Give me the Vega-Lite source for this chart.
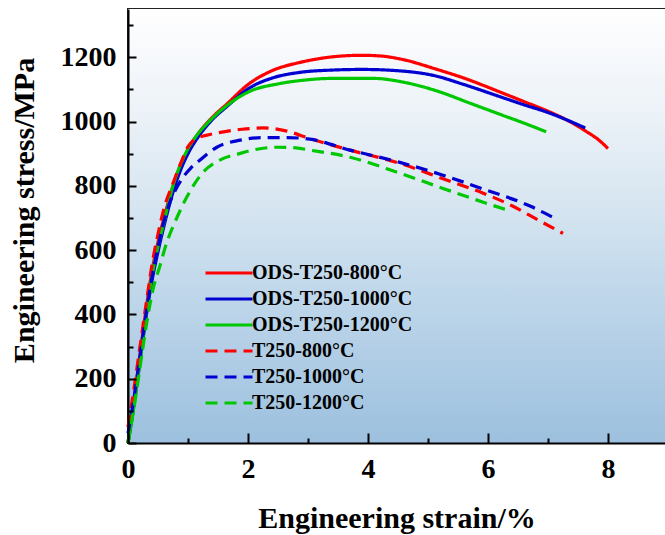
{
  "$schema": "https://vega.github.io/schema/vega-lite/v6.json",
  "width": 537,
  "height": 434,
  "autosize": {"type": "none"},
  "padding": {"left": 128, "top": 9, "right": 0, "bottom": 92},
  "background": "white",
  "config": {
    "font": "Liberation Serif",
    "view": {"stroke": "#222222", "strokeWidth": 2},
    "legend": {
      "orient": "none",
      "legendX": 91,
      "legendY": 254,
      "padding": 0,
      "title": null,
      "labelFont": "Liberation Serif",
      "labelFontSize": 20,
      "labelFontWeight": "bold",
      "labelColor": "black",
      "labelLimit": 400,
      "labelOffset": 13,
      "symbolType": "M-4.7,0H4.7",
      "symbolSize": 100,
      "symbolStrokeWidth": 3,
      "rowPadding": 6
    }
  },
  "datasets": {
    "curves": [
      {"series": "ODS-T250-800°C", "strain": 0, "stress": 0},
      {"series": "ODS-T250-800°C", "strain": 0.1, "stress": 135},
      {"series": "ODS-T250-800°C", "strain": 0.2, "stress": 275},
      {"series": "ODS-T250-800°C", "strain": 0.3, "stress": 415},
      {"series": "ODS-T250-800°C", "strain": 0.4, "stress": 535},
      {"series": "ODS-T250-800°C", "strain": 0.5, "stress": 625},
      {"series": "ODS-T250-800°C", "strain": 0.6, "stress": 700},
      {"series": "ODS-T250-800°C", "strain": 0.75, "stress": 800},
      {"series": "ODS-T250-800°C", "strain": 0.9, "stress": 875},
      {"series": "ODS-T250-800°C", "strain": 1.0, "stress": 912},
      {"series": "ODS-T250-800°C", "strain": 1.2, "stress": 970},
      {"series": "ODS-T250-800°C", "strain": 1.4, "stress": 1012},
      {"series": "ODS-T250-800°C", "strain": 1.65, "stress": 1055},
      {"series": "ODS-T250-800°C", "strain": 2.0, "stress": 1115},
      {"series": "ODS-T250-800°C", "strain": 2.4, "stress": 1158},
      {"series": "ODS-T250-800°C", "strain": 2.87, "stress": 1184},
      {"series": "ODS-T250-800°C", "strain": 3.4, "stress": 1201},
      {"series": "ODS-T250-800°C", "strain": 3.9, "stress": 1206},
      {"series": "ODS-T250-800°C", "strain": 4.2, "stress": 1204},
      {"series": "ODS-T250-800°C", "strain": 4.6, "stress": 1192},
      {"series": "ODS-T250-800°C", "strain": 5.1, "stress": 1165},
      {"series": "ODS-T250-800°C", "strain": 5.6, "stress": 1135},
      {"series": "ODS-T250-800°C", "strain": 6.25, "stress": 1088},
      {"series": "ODS-T250-800°C", "strain": 6.6, "stress": 1062},
      {"series": "ODS-T250-800°C", "strain": 7.0, "stress": 1032},
      {"series": "ODS-T250-800°C", "strain": 7.3, "stress": 1006},
      {"series": "ODS-T250-800°C", "strain": 7.63, "stress": 970},
      {"series": "ODS-T250-800°C", "strain": 7.85, "stress": 942},
      {"series": "ODS-T250-800°C", "strain": 8.0, "stress": 916},

      {"series": "ODS-T250-1000°C", "strain": 0, "stress": 0},
      {"series": "ODS-T250-1000°C", "strain": 0.1, "stress": 120},
      {"series": "ODS-T250-1000°C", "strain": 0.2, "stress": 255},
      {"series": "ODS-T250-1000°C", "strain": 0.3, "stress": 390},
      {"series": "ODS-T250-1000°C", "strain": 0.4, "stress": 505},
      {"series": "ODS-T250-1000°C", "strain": 0.5, "stress": 595},
      {"series": "ODS-T250-1000°C", "strain": 0.6, "stress": 675},
      {"series": "ODS-T250-1000°C", "strain": 0.75, "stress": 780},
      {"series": "ODS-T250-1000°C", "strain": 0.9, "stress": 860},
      {"series": "ODS-T250-1000°C", "strain": 1.0, "stress": 900},
      {"series": "ODS-T250-1000°C", "strain": 1.2, "stress": 960},
      {"series": "ODS-T250-1000°C", "strain": 1.4, "stress": 1005},
      {"series": "ODS-T250-1000°C", "strain": 1.65, "stress": 1047},
      {"series": "ODS-T250-1000°C", "strain": 2.03, "stress": 1105},
      {"series": "ODS-T250-1000°C", "strain": 2.4, "stress": 1135},
      {"series": "ODS-T250-1000°C", "strain": 2.87, "stress": 1153},
      {"series": "ODS-T250-1000°C", "strain": 3.4, "stress": 1160},
      {"series": "ODS-T250-1000°C", "strain": 3.9, "stress": 1162},
      {"series": "ODS-T250-1000°C", "strain": 4.5, "stress": 1158},
      {"series": "ODS-T250-1000°C", "strain": 5.1, "stress": 1143},
      {"series": "ODS-T250-1000°C", "strain": 5.6, "stress": 1115},
      {"series": "ODS-T250-1000°C", "strain": 6.25, "stress": 1074},
      {"series": "ODS-T250-1000°C", "strain": 6.6, "stress": 1052},
      {"series": "ODS-T250-1000°C", "strain": 7.0, "stress": 1028},
      {"series": "ODS-T250-1000°C", "strain": 7.3, "stress": 1006},
      {"series": "ODS-T250-1000°C", "strain": 7.62, "stress": 980},

      {"series": "ODS-T250-1200°C", "strain": 0, "stress": 0},
      {"series": "ODS-T250-1200°C", "strain": 0.1, "stress": 115},
      {"series": "ODS-T250-1200°C", "strain": 0.2, "stress": 250},
      {"series": "ODS-T250-1200°C", "strain": 0.3, "stress": 395},
      {"series": "ODS-T250-1200°C", "strain": 0.4, "stress": 520},
      {"series": "ODS-T250-1200°C", "strain": 0.5, "stress": 612},
      {"series": "ODS-T250-1200°C", "strain": 0.58, "stress": 672},
      {"series": "ODS-T250-1200°C", "strain": 0.75, "stress": 800},
      {"series": "ODS-T250-1200°C", "strain": 0.98, "stress": 908},
      {"series": "ODS-T250-1200°C", "strain": 1.15, "stress": 958},
      {"series": "ODS-T250-1200°C", "strain": 1.32, "stress": 994},
      {"series": "ODS-T250-1200°C", "strain": 1.65, "stress": 1050},
      {"series": "ODS-T250-1200°C", "strain": 2.03, "stress": 1094},
      {"series": "ODS-T250-1200°C", "strain": 2.5, "stress": 1117},
      {"series": "ODS-T250-1200°C", "strain": 2.9, "stress": 1128},
      {"series": "ODS-T250-1200°C", "strain": 3.4, "stress": 1134},
      {"series": "ODS-T250-1200°C", "strain": 4.1, "stress": 1134},
      {"series": "ODS-T250-1200°C", "strain": 4.6, "stress": 1122},
      {"series": "ODS-T250-1200°C", "strain": 5.15, "stress": 1095},
      {"series": "ODS-T250-1200°C", "strain": 5.7, "stress": 1057},
      {"series": "ODS-T250-1200°C", "strain": 6.25, "stress": 1019},
      {"series": "ODS-T250-1200°C", "strain": 6.6, "stress": 995},
      {"series": "ODS-T250-1200°C", "strain": 6.97, "stress": 968},

      {"series": "T250-800°C", "strain": 0, "stress": 50},
      {"series": "T250-800°C", "strain": 0.1, "stress": 170},
      {"series": "T250-800°C", "strain": 0.2, "stress": 300},
      {"series": "T250-800°C", "strain": 0.3, "stress": 430},
      {"series": "T250-800°C", "strain": 0.4, "stress": 555},
      {"series": "T250-800°C", "strain": 0.5, "stress": 650},
      {"series": "T250-800°C", "strain": 0.6, "stress": 730},
      {"series": "T250-800°C", "strain": 0.75, "stress": 808},
      {"series": "T250-800°C", "strain": 0.9, "stress": 880},
      {"series": "T250-800°C", "strain": 1.0, "stress": 922},
      {"series": "T250-800°C", "strain": 1.12, "stress": 945},
      {"series": "T250-800°C", "strain": 1.3, "stress": 957},
      {"series": "T250-800°C", "strain": 1.48, "stress": 964},
      {"series": "T250-800°C", "strain": 1.9, "stress": 976},
      {"series": "T250-800°C", "strain": 2.25, "stress": 980},
      {"series": "T250-800°C", "strain": 2.65, "stress": 970},
      {"series": "T250-800°C", "strain": 3.03, "stress": 947},
      {"series": "T250-800°C", "strain": 3.7, "stress": 911},
      {"series": "T250-800°C", "strain": 4.53, "stress": 870},
      {"series": "T250-800°C", "strain": 5.25, "stress": 822},
      {"series": "T250-800°C", "strain": 5.92, "stress": 777},
      {"series": "T250-800°C", "strain": 6.4, "stress": 738},
      {"series": "T250-800°C", "strain": 6.87, "stress": 690},
      {"series": "T250-800°C", "strain": 7.25, "stress": 652},

      {"series": "T250-1000°C", "strain": 0, "stress": 30},
      {"series": "T250-1000°C", "strain": 0.1, "stress": 140},
      {"series": "T250-1000°C", "strain": 0.2, "stress": 270},
      {"series": "T250-1000°C", "strain": 0.3, "stress": 400},
      {"series": "T250-1000°C", "strain": 0.4, "stress": 515},
      {"series": "T250-1000°C", "strain": 0.5, "stress": 610},
      {"series": "T250-1000°C", "strain": 0.6, "stress": 690},
      {"series": "T250-1000°C", "strain": 0.7, "stress": 750},
      {"series": "T250-1000°C", "strain": 0.8, "stress": 790},
      {"series": "T250-1000°C", "strain": 0.92, "stress": 827},
      {"series": "T250-1000°C", "strain": 1.05, "stress": 856},
      {"series": "T250-1000°C", "strain": 1.2, "stress": 880},
      {"series": "T250-1000°C", "strain": 1.48, "stress": 920},
      {"series": "T250-1000°C", "strain": 1.87, "stress": 942},
      {"series": "T250-1000°C", "strain": 2.25, "stress": 950},
      {"series": "T250-1000°C", "strain": 2.65, "stress": 950},
      {"series": "T250-1000°C", "strain": 3.03, "stress": 945},
      {"series": "T250-1000°C", "strain": 3.7, "stress": 911},
      {"series": "T250-1000°C", "strain": 4.53, "stress": 873},
      {"series": "T250-1000°C", "strain": 5.25, "stress": 833},
      {"series": "T250-1000°C", "strain": 5.92, "stress": 790},
      {"series": "T250-1000°C", "strain": 6.7, "stress": 737},
      {"series": "T250-1000°C", "strain": 7.08, "stress": 702},

      {"series": "T250-1200°C", "strain": 0, "stress": 0},
      {"series": "T250-1200°C", "strain": 0.1, "stress": 110},
      {"series": "T250-1200°C", "strain": 0.2, "stress": 235},
      {"series": "T250-1200°C", "strain": 0.3, "stress": 360},
      {"series": "T250-1200°C", "strain": 0.42, "stress": 480},
      {"series": "T250-1200°C", "strain": 0.53, "stress": 550},
      {"series": "T250-1200°C", "strain": 0.64, "stress": 620},
      {"series": "T250-1200°C", "strain": 0.82, "stress": 703},
      {"series": "T250-1200°C", "strain": 0.98, "stress": 765},
      {"series": "T250-1200°C", "strain": 1.25, "stress": 842},
      {"series": "T250-1200°C", "strain": 1.53, "stress": 880},
      {"series": "T250-1200°C", "strain": 1.87, "stress": 901},
      {"series": "T250-1200°C", "strain": 2.1, "stress": 912},
      {"series": "T250-1200°C", "strain": 2.48, "stress": 920},
      {"series": "T250-1200°C", "strain": 2.8, "stress": 918},
      {"series": "T250-1200°C", "strain": 3.03, "stress": 911},
      {"series": "T250-1200°C", "strain": 3.7, "stress": 889},
      {"series": "T250-1200°C", "strain": 4.53, "stress": 839},
      {"series": "T250-1200°C", "strain": 5.25, "stress": 792},
      {"series": "T250-1200°C", "strain": 5.92, "stress": 749},
      {"series": "T250-1200°C", "strain": 6.33, "stress": 724}
    ]
  },
  "layer": [
    {
      "data": {"values": [{}]},
      "mark": {
        "type": "rect",
        "color": {
          "gradient": "linear",
          "x1": 0, "y1": 0, "x2": 0, "y2": 1,
          "stops": [
            {"offset": 0, "color": "#ffffff"},
            {"offset": 0.1, "color": "#f7f9fc"},
            {"offset": 0.26, "color": "#eaf1f7"},
            {"offset": 0.44, "color": "#d8e6f1"},
            {"offset": 0.6, "color": "#c5dbec"},
            {"offset": 0.79, "color": "#b2cee6"},
            {"offset": 1, "color": "#9cc0de"}
          ]
        }
      },
      "encoding": {
        "x": {
          "datum": 0, "type": "quantitative",
          "scale": {"domain": [0, 8.95], "nice": false},
          "axis": {"orient": "top", "offset": -434, "values": [0, 2, 4, 6, 8], "labels": false, "domain": false, "grid": false, "title": null, "tickSize": 10, "tickWidth": 2, "tickColor": "black", "zindex": 3}
        },
        "x2": {"datum": 8.95},
        "y": {
          "datum": 0, "type": "quantitative",
          "scale": {"domain": [0, 1350], "nice": false},
          "axis": {"orient": "right", "offset": -537, "values": [0, 200, 400, 600, 800, 1000, 1200], "labels": false, "domain": false, "grid": false, "title": null, "tickSize": 8, "tickWidth": 2, "tickColor": "black", "zindex": 3}
        },
        "y2": {"datum": 1350}
      }
    },
    {
      "data": {"values": [{}]},
      "mark": {"type": "rect", "opacity": 0},
      "encoding": {
        "x": {
          "datum": 0, "type": "quantitative",
          "scale": {"domain": [0, 8.95], "nice": false},
          "axis": {"orient": "top", "offset": -434, "values": [1, 3, 5, 7], "labels": false, "domain": false, "grid": false, "title": null, "tickSize": 5, "tickWidth": 2, "tickColor": "black", "zindex": 3}
        },
        "x2": {"datum": 0},
        "y": {
          "datum": 0, "type": "quantitative",
          "scale": {"domain": [0, 1350], "nice": false},
          "axis": {"orient": "right", "offset": -537, "values": [100, 300, 500, 700, 900, 1100, 1300], "labels": false, "domain": false, "grid": false, "title": null, "tickSize": 5, "tickWidth": 2, "tickColor": "black", "zindex": 3}
        },
        "y2": {"datum": 0}
      }
    },
    {
      "data": {"name": "curves"},
      "mark": {"type": "line", "strokeWidth": 3.2, "interpolate": "monotone"},
      "encoding": {
        "x": {
          "field": "strain",
          "type": "quantitative",
          "scale": {"domain": [0, 8.95], "nice": false},
          "axis": {
            "orient": "bottom",
            "values": [0, 2, 4, 6, 8],
            "format": "d",
            "grid": false,
            "zindex": 2,
            "title": "Engineering strain/%",
            "titleFontSize": 30,
            "titleFontWeight": "bold",
            "titleColor": "black",
            "titleBaseline": "alphabetic",
            "titleY": 84,
            "labelFontSize": 28,
            "labelFontWeight": "bold",
            "labelColor": "black",
            "labelFlush": false,
            "labelOverlap": false,
            "ticks": false,
            "labelPadding": 12,
            "domainColor": "black",
            "domainWidth": 2
          }
        },
        "y": {
          "field": "stress",
          "type": "quantitative",
          "scale": {"domain": [0, 1350], "nice": false},
          "axis": {
            "orient": "left",
            "values": [0, 200, 400, 600, 800, 1000, 1200],
            "format": "d",
            "grid": false,
            "zindex": 2,
            "title": "Engineering stress/MPa",
            "titleFontSize": 30,
            "titleFontWeight": "bold",
            "titleColor": "black",
            "titleAngle": 270,
            "titleAlign": "center",
            "titleBaseline": "alphabetic",
            "titleX": -95,
            "titleY": 201,
            "labelFontSize": 28,
            "labelFontWeight": "bold",
            "labelColor": "black",
            "labelOverlap": false,
            "ticks": false,
            "labelPadding": 12,
            "domainColor": "black",
            "domainWidth": 2
          }
        },
        "color": {
          "field": "series",
          "type": "nominal",
          "sort": null,
          "scale": {
            "domain": ["ODS-T250-800°C", "ODS-T250-1000°C", "ODS-T250-1200°C", "T250-800°C", "T250-1000°C", "T250-1200°C"],
            "range": ["#ff0000", "#0000d0", "#00c800", "#ff0000", "#0000d0", "#00c800"]
          }
        },
        "strokeDash": {
          "field": "series",
          "type": "nominal",
          "sort": null,
          "scale": {
            "domain": ["ODS-T250-800°C", "ODS-T250-1000°C", "ODS-T250-1200°C", "T250-800°C", "T250-1000°C", "T250-1200°C"],
            "range": [[1, 0], [1, 0], [1, 0], [12, 7], [12, 7], [12, 7]]
          }
        }
      }
    }
  ]
}
